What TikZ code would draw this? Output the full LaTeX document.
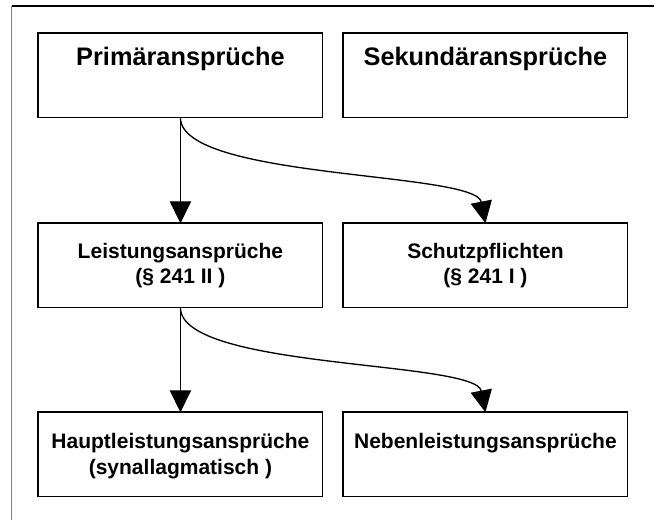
\documentclass[tikz,border=0pt]{standalone}
\usepackage{fontspec}
\setmainfont{Liberation Sans}
\usetikzlibrary{arrows.meta}
\begin{document}
\begin{tikzpicture}[x=0.75pt,y=-0.75pt,
  box/.style={draw=black, line width=1.3pt, minimum width=213.2pt, minimum height=63.2pt, inner sep=0pt, outer sep=0pt, anchor=north west},
  bigtext/.style={font=\fontsize{19}{23}\selectfont\bfseries, anchor=base, inner sep=0pt},
  smalltext/.style={font=\fontsize{15.75}{19}\selectfont\bfseries, anchor=base, inner sep=0pt},
  conn/.style={line width=1pt, -{Triangle[length=16.5pt,width=16pt]}}]
\useasboundingbox (0,0) rectangle (654,520);
% outer frame (only top and left edges visible)
\draw[line width=1pt] (11.7,6) -- (654,6);
\draw[gray, line width=0.8pt] (11.7,6) -- (11.7,520);
% boxes
\node[box] (p) at (38.3,33.3) {};
\node[box] (s) at (343.3,33.3) {};
\node[box] (l) at (38.3,223.3) {};
\node[box] (sp) at (343.3,223.3) {};
\node[box] (h) at (38.3,412.3) {};
\node[box] (n) at (343.3,412.3) {};
% texts
\node[bigtext] (pt) at ([yshift=-23.8pt]p.north) {Primäransprüche};
\node[bigtext] (st) at ([yshift=-23.8pt]s.north) {Sekundäransprüche};
\node[smalltext] (lt1) at ([yshift=-26.5pt]l.north) {Leistungsansprüche};
\node[smalltext] (lt2) at ([yshift=-45.3pt]l.north) {(§ 241 II )};
\node[smalltext] (spt1) at ([yshift=-26.5pt]sp.north) {Schutzpflichten};
\node[smalltext] (spt2) at ([yshift=-45.3pt]sp.north) {(§ 241 I )};
\node[smalltext] (ht1) at ([yshift=-27.5pt]h.north) {Hauptleistungsansprüche};
\node[smalltext] (ht2) at ([yshift=-46.3pt]h.north) {(synallagmatisch )};
\node[smalltext] (nt1) at ([yshift=-27.5pt]n.north) {Nebenleistungsansprüche};
% connectors
\draw[conn] (p.south) -- (l.north);
\draw[conn] (p.south) .. controls +(0,62) and +(-10,-52) .. (sp.north);
\draw[conn] (l.south) -- (h.north);
\draw[conn] (l.south) .. controls +(0,62) and +(-10,-52) .. (n.north);
\end{tikzpicture}
\end{document}
